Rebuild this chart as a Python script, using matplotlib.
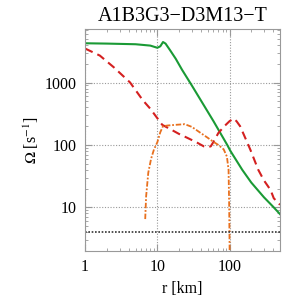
import numpy as np
import matplotlib
matplotlib.use("Agg")
import matplotlib.pyplot as plt
from matplotlib.ticker import FixedLocator, FixedFormatter, LogLocator, NullFormatter

# green solid curve
r_green = [1, 2, 5, 8, 10, 11, 12, 13, 15, 18, 22, 30, 40, 60, 93, 103, 150, 200, 300, 400, 500]
om_green = [4250, 4200, 4100, 3900, 3600, 3800, 4450, 4200, 3300, 2400, 1600, 900, 520,
            240, 100, 80, 40, 25, 14.5, 10.3, 7.8]

# red dashed curve
r_red = [1, 1.6, 2.5, 4.2, 6.3, 8, 11.7, 15, 20, 26, 35, 44, 50, 55, 60, 70, 85, 100,
         114, 125, 140, 170, 195, 250, 300, 370, 410, 500]
om_red = [3500, 2700, 1750, 1000, 520, 380, 210, 180, 150, 130, 110, 95, 92, 95, 112,
          155, 200, 240, 265, 240, 200, 120, 83, 40, 27, 19, 14, 11]

# orange dash-dot curve
r_orange = [6.8, 7.0, 7.5, 8.2, 9, 10, 11, 12, 14, 18, 24, 30, 40, 50, 60, 70, 83, 92,
            97, 99, 100, 101]
om_orange = [6.5, 15, 36, 60, 85, 110, 160, 200, 205, 210, 215, 195, 155, 130, 112, 100,
             85, 65, 40, 10, 3, 1]

omega_ref = 4.0

plt.rcParams['font.family'] = ['Liberation Serif', 'DejaVu Serif']
plt.rcParams['mathtext.fontset'] = 'stix'

fig = plt.figure(figsize=(3.05, 3.05), dpi=100)
ax = fig.add_axes([0.279, 0.177, 0.639, 0.728])

ax.plot(r_green, om_green, color='#1a9a35', lw=1.5)
ax.plot(r_red, om_red, color='#d42020', lw=1.5, dashes=(4, 2.5))
ax.plot(r_orange, om_orange, color='#e8701e', lw=1.3, dashes=(3, 1, 1, 1))
ax.axhline(omega_ref, color='#333333', lw=1.2, ls=(0, (1, 1)))

ax.set_xscale('log')
ax.set_yscale('log')
ax.set_xlim(1, 500)
ax.set_ylim(2, 7200)

ax.xaxis.set_major_locator(FixedLocator([1, 10, 100]))
ax.xaxis.set_major_formatter(FixedFormatter(['1', '10', '100']))
ax.yaxis.set_major_locator(FixedLocator([10, 100, 1000]))
ax.yaxis.set_major_formatter(FixedFormatter(['10', '100', '1000']))
ax.xaxis.set_minor_locator(LogLocator(base=10, subs=np.arange(2, 10)))
ax.yaxis.set_minor_locator(LogLocator(base=10, subs=np.arange(2, 10)))
ax.xaxis.set_minor_formatter(NullFormatter())
ax.yaxis.set_minor_formatter(NullFormatter())

ax.tick_params(which='both', direction='in', top=True, right=True, colors='#999999',
               labelcolor='black', labelsize=11.5)
ax.tick_params(which='major', length=5, width=0.8, pad=6)
ax.tick_params(which='minor', length=2.5, width=0.6)
for s in ax.spines.values():
    s.set_color('#999999')

ax.grid(True, which='major', color='#999999', ls=(0, (1, 1.5)), lw=0.8)

ax.set_xlabel('r [km]', fontsize=11.5, labelpad=4)
ax.set_ylabel(r'$\Omega$ [s$^{-1}$]', fontsize=11.5, labelpad=3)
ax.set_title('A1B3G3\u2212D3M13\u2212T', fontsize=14.5, pad=6)

fig.savefig('out.png', dpi=100)
